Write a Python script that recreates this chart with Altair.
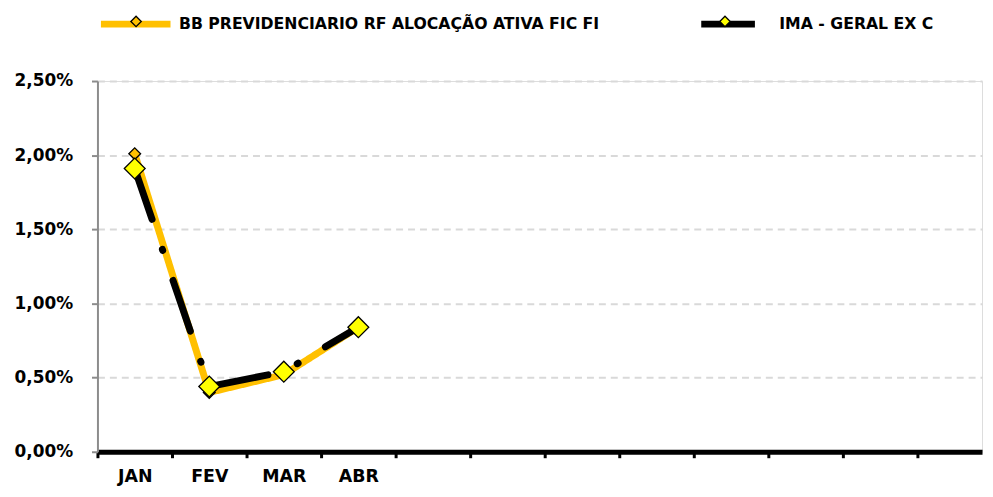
import altair as alt
import pandas as pd

# ---- data ----
meses = ["JAN", "FEV", "MAR", "ABR"]
series = ["BB PREVIDENCIARIO RF ALOCAÇÃO ATIVA FIC FI", "IMA - GERAL EX C"]
bb_vals = [0.0201, 0.0040, 0.0052, 0.0084]
ima_vals = [0.0191, 0.0044, 0.0054, 0.0084]
y_ticks = [0.0, 0.005, 0.010, 0.015, 0.020, 0.025]
n_slots = 12  # month slots on the category axis

rows = []
for i, m in enumerate(meses):
    rows.append({"mes": m, "pos": i + 0.5, "serie": series[0], "serie_b": series[0], "valor": bb_vals[i]})
    rows.append({"mes": m, "pos": i + 0.5, "serie": series[1], "serie_b": series[1], "valor": ima_vals[i]})
df = pd.DataFrame(rows)

FONT = "DejaVu Sans"
STEP = 75
W = 890
H = 373
x_max = W / STEP

label_arr = "[" + ",".join("'" + m + "'" for m in meses) + "]"

x_enc = alt.X(
    "pos:Q",
    title=None,
    scale=alt.Scale(domain=[0, x_max], nice=False, zero=False),
    axis=alt.Axis(
        values=list(range(n_slots)),
        labelExpr=label_arr + "[datum.value] || ''",
        labelOffset=STEP / 2,
        labelFlush=False,
        labelOverlap=False,
        labelFont=FONT, labelFontSize=17.5, labelFontWeight="bold", labelColor="black",
        labelPadding=10,
        domainColor="black", domainWidth=5,
        tickColor="black", tickSize=6, tickWidth=3,
        grid=False,
    ),
)

y_enc = alt.Y(
    "valor:Q",
    title=None,
    scale=alt.Scale(domain=[0, 0.025], nice=False),
    axis=alt.Axis(
        values=y_ticks,
        labelExpr="replace(format(datum.value, '.2%'), '.', ',')",
        labelFont=FONT, labelFontSize=17, labelFontWeight="bold", labelColor="black",
        labelPadding=19,
        domainColor="#8c8c8c", domainWidth=2,
        tickColor="#8c8c8c", tickSize=6, tickWidth=2,
        grid=True, gridColor="#d9d9d9", gridWidth=2, gridDash=[7, 5],
    ),
)

LEG_X = 0
LEG_Y = -96
SYM = 4900  # symbol width 70 px
LINE_SW = 7
DIA_SW = 1.3
LABEL_W = 420  # approx. width of the first legend label
COL_PAD = 87

legend_common = dict(
    orient="none", legendY=LEG_Y, direction="horizontal",
    title=None, symbolSize=SYM,
    labelFont=FONT, labelFontSize=15.8, labelFontWeight="bold", labelColor="black",
    labelLimit=700, labelOffset=5, padding=0,
)

lines = alt.Chart(df).mark_line(strokeWidth=LINE_SW, strokeCap="round", strokeJoin="round").encode(
    x=x_enc,
    y=y_enc,
    color=alt.Color(
        "serie:N",
        scale=alt.Scale(domain=series, range=["#FFC000", "#000000"]),
        legend=alt.Legend(symbolType="stroke", symbolStrokeWidth=LINE_SW,
                          legendX=LEG_X, columnPadding=COL_PAD, **legend_common),
    ),
    strokeDash=alt.StrokeDash(
        "serie:N",
        scale=alt.Scale(domain=series, range=[[1, 0], [54, 32, 1, 32]]),
        legend=None,
    ),
)

shift = (LINE_SW - DIA_SW) / 2
points = alt.Chart(df).mark_point(shape="diamond", filled=True, stroke="black", strokeWidth=DIA_SW, opacity=1).encode(
    x=x_enc,
    y=y_enc,
    fill=alt.Fill(
        "serie_b:N",
        scale=alt.Scale(range=["#FFC000", "#FFFF00"]),
        legend=alt.Legend(
            symbolType="M0,-0.15L0.15,0L0,0.15L-0.15,0Z",
            symbolStrokeColor="black", symbolStrokeWidth=DIA_SW, labelExpr="''",
            legendX=LEG_X + shift, columnPadding=COL_PAD + 3 * shift + LABEL_W,
            **legend_common,
        ),
    ),
    size=alt.condition(alt.datum.serie == series[1], alt.value(440), alt.value(140)),
)

chart = alt.layer(lines, points).properties(
    width=W, height=H,
    autosize=alt.AutoSizeParams(type="none"),
    padding={"left": 90, "top": 72, "right": 3, "bottom": 36},
).configure_view(stroke=None).configure(background="white")

chart.save("out.html", embed_options={"renderer": "svg", "actions": False})
